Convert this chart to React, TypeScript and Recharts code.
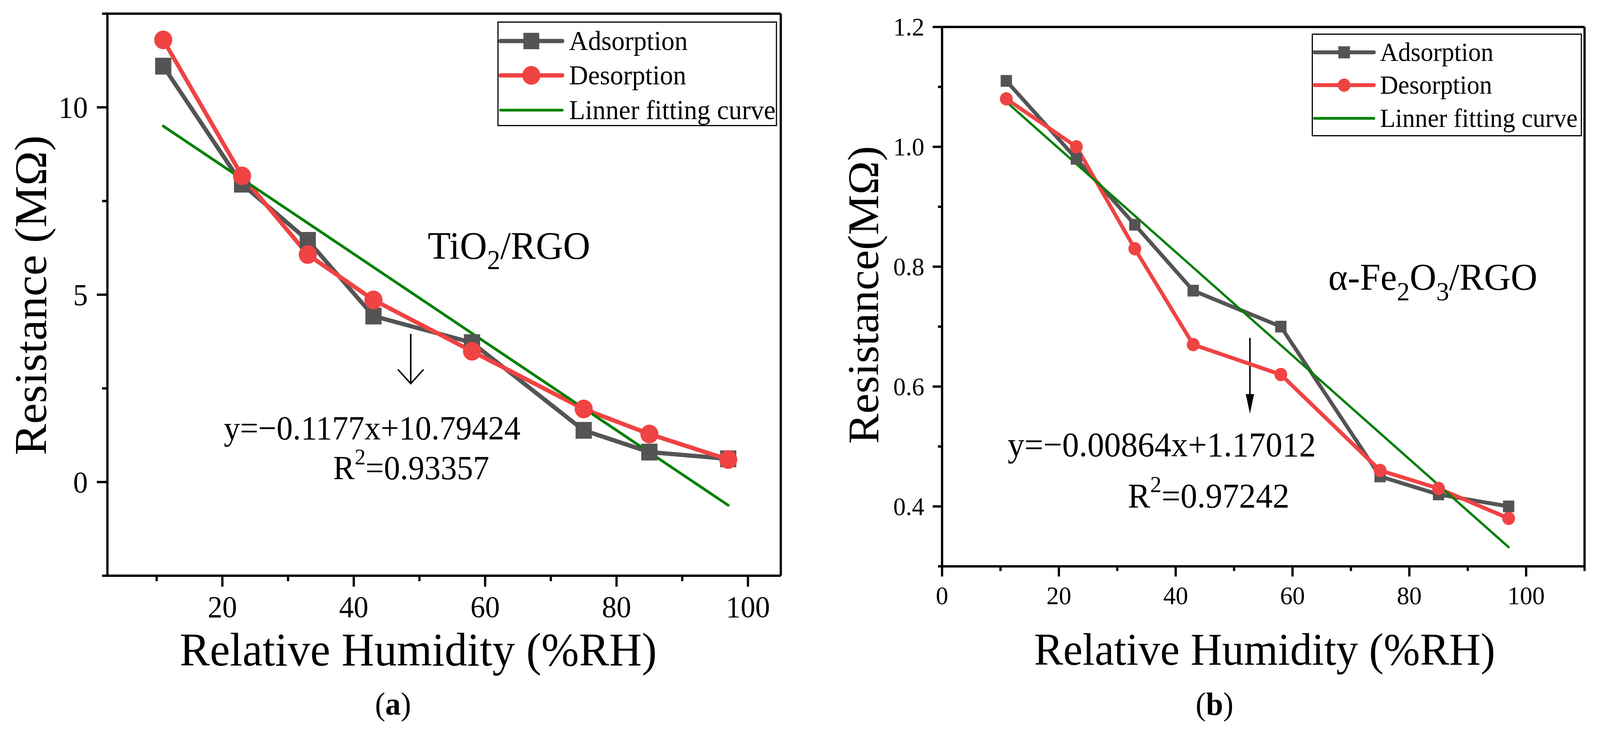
import React from 'react';
import { LineChart, Line, XAxis, YAxis, ReferenceLine, Legend, Customized } from 'recharts';

// ---------- data ----------
const humidity = [11, 23, 33, 43, 58, 75, 85, 97];

const tiAdsorption = [11.1, 7.95, 6.45, 4.43, 3.72, 1.38, 0.8, 0.62];
const tiDesorption = [11.8, 8.17, 6.07, 4.86, 3.49, 1.95, 1.28, 0.6];
const fitX = [11, 97];
const tiFitY = [9.5, -0.62];

const feAdsorption = [1.11, 0.98, 0.87, 0.76, 0.7, 0.45, 0.42, 0.4];
const feDesorption = [1.08, 1.0, 0.83, 0.67, 0.62, 0.46, 0.43, 0.38];
const feFitY = [1.075, 0.332];

const tiXTicks = [10, 20, 30, 40, 50, 60, 70, 80, 90, 100];
const tiXMajor = [20, 40, 60, 80, 100];
const tiYTicks = [-2.5, 0, 2.5, 5, 7.5, 10, 12.5];
const tiYMajor = [0, 5, 10];

const feXTicks = [0, 10, 20, 30, 40, 50, 60, 70, 80, 90, 100, 110];
const feXMajor = [0, 20, 40, 60, 80, 100];
const feYTicks = [0.3, 0.4, 0.5, 0.6, 0.7, 0.8, 0.9, 1.0, 1.1, 1.2];
const feYMajor = [0.4, 0.6, 0.8, 1.0, 1.2];

const seriesNames = ['Adsorption', 'Desorption', 'Linner fitting curve'];

// ---------- style ----------
const FONT = "'Liberation Serif', 'Times New Roman', Times, serif";
const GREY = '#545454';
const RED = '#F04343';
const GREEN = '#008000';
// the photographed frame is narrower than the requested page; fit the 4246-wide layout into it
const FIT_X = 4096 / 4246;

const toRows = (xs: number[], ys: number[]) => xs.map((h, i) => ({ h, r: ys[i] }));

const tiAdsData = toRows(humidity, tiAdsorption);
const tiDesData = toRows(humidity, tiDesorption);
const tiFitData = toRows(fitX, tiFitY);
const feAdsData = toRows(humidity, feAdsorption);
const feDesData = toRows(humidity, feDesorption);
const feFitData = toRows(fitX, feFitY);

const squareDot = (size: number, color: string) => (p: any) => {
  if (p.cx == null || p.cy == null) return <g key={`s${p.index}`} />;
  return <rect key={`s${p.index}`} x={p.cx - size / 2} y={p.cy - size / 2} width={size} height={size} fill={color} />;
};
const circleDot = (r: number, color: string) => (p: any) => {
  if (p.cx == null || p.cy == null) return <g key={`c${p.index}`} />;
  return <circle key={`c${p.index}`} cx={p.cx} cy={p.cy} r={r} fill={color} />;
};

const makeXTick = (major: number[], len: number, minorLen: number, fontSize: number, labelOffset: number, fmt: (v: number) => string) =>
  (props: any) => {
    const { x, y, payload } = props;
    const isMajor = major.some((m) => Math.abs(m - payload.value) < 1e-9);
    return (
      <g>
        <line x1={x} x2={x} y1={y} y2={y + (isMajor ? len : minorLen)} stroke="#000" strokeWidth={6} />
        {isMajor && (
          <text x={x} y={y + labelOffset} textAnchor="middle" fontSize={fontSize} fontFamily={FONT} fill="#000">
            {fmt(payload.value)}
          </text>
        )}
      </g>
    );
  };

const makeYTick = (major: number[], len: number, minorLen: number, fontSize: number, labelOffset: number, fmt: (v: number) => string) =>
  (props: any) => {
    const { x, y, payload } = props;
    const isMajor = major.some((m) => Math.abs(m - payload.value) < 1e-9);
    return (
      <g>
        <line x1={x} x2={x - (isMajor ? len : minorLen)} y1={y} y2={y} stroke="#000" strokeWidth={6} />
        {isMajor && (
          <text x={x - labelOffset} y={y + fontSize * 0.34} textAnchor="end" fontSize={fontSize} fontFamily={FONT} fill="#000">
            {fmt(payload.value)}
          </text>
        )}
      </g>
    );
  };

type LegendCfg = {
  w: number; h: number; fontSize: number; lineX1: number; lineX2: number; textX: number;
  rows: number[]; lineW: number; fitW: number; sq: number; cr: number;
};

const makeLegend = (c: LegendCfg) => () => (
  <svg width={c.w} height={c.h} style={{ display: 'block', overflow: 'visible' }}>
    <rect x={1.5} y={1.5} width={c.w - 3} height={c.h - 3} fill="#fff" stroke="#000" strokeWidth={3} />
    {seriesNames.map((name, i) => {
      const y = c.rows[i];
      const color = i === 0 ? GREY : i === 1 ? RED : GREEN;
      const mid = (c.lineX1 + c.lineX2) / 2;
      return (
        <g key={name}>
          <line x1={c.lineX1} x2={c.lineX2} y1={y} y2={y} stroke={color} strokeWidth={i === 2 ? c.fitW : c.lineW} strokeLinecap="round" />
          {i === 0 && <rect x={mid - c.sq / 2} y={y - c.sq / 2} width={c.sq} height={c.sq} fill={GREY} />}
          {i === 1 && <circle cx={mid} cy={y} r={c.cr} fill={RED} />}
          <text x={c.textX} y={y + c.fontSize * 0.33} fontSize={c.fontSize} fontFamily={FONT} fill="#000">{name}</text>
        </g>
      );
    })}
  </svg>
);

const LeftLegend = makeLegend({ w: 742, h: 268, fontSize: 70, lineX1: 8, lineX2: 172, textX: 190, rows: [50, 138, 227], lineW: 11, fitW: 7, sq: 42, cr: 24 });
const RightLegend = makeLegend({ w: 717, h: 263, fontSize: 67, lineX1: 7, lineX2: 165, textX: 181, rows: [48, 132, 217], lineW: 10, fitW: 7, sq: 31, cr: 17 });

// ---------- annotations ----------
const LeftAnnotations = () => (
  <g fontFamily={FONT} fill="#000">
    <text x={1135} y={662} fontSize={100}>
      TiO<tspan fontSize={70} dy={27}>2</tspan><tspan dy={-27}>/RGO</tspan>
    </text>
    <line x1={1090} x2={1090} y1={855} y2={980} stroke="#000" strokeWidth={4} />
    <polyline points="1056,946 1090,982 1124,946" fill="none" stroke="#000" strokeWidth={4} />
    <text x={594} y={1125} fontSize={86}>y=−0.1177x+10.79424</text>
    <text x={884} y={1227} fontSize={86}>
      R<tspan fontSize={58} dy={-38}>2</tspan><tspan dy={38}>=0.93357</tspan>
    </text>
    <text transform="translate(122,756) rotate(-90)" textAnchor="middle" fontSize={120}>Resistance (MΩ)</text>
    <text x={1110} y={1704} textAnchor="middle" fontSize={120}>Relative Humidity (%RH)</text>
    <text x={1043} y={1830} textAnchor="middle" fontSize={82}>(<tspan fontWeight="bold">a</tspan>)</text>
  </g>
);

const RightAnnotations = () => (
  <g fontFamily={FONT} fill="#000">
    <text x={3525 - 2123} y={742} fontSize={98}>
      α-Fe<tspan fontSize={68} dy={27}>2</tspan><tspan dy={-27}>O</tspan><tspan fontSize={68} dy={27}>3</tspan><tspan dy={-27}>/RGO</tspan>
    </text>
    <line x1={3317 - 2123} x2={3317 - 2123} y1={865} y2={1015} stroke="#000" strokeWidth={4} />
    <polygon points={`${3306 - 2123},1009 ${3328 - 2123},1009 ${3317 - 2123},1059`} fill="#000" />
    <text x={2674 - 2123} y={1168} fontSize={89}>y=−0.00864x+1.17012</text>
    <text x={2993 - 2123} y={1299} fontSize={89}>
      R<tspan fontSize={60} dy={-39}>2</tspan><tspan dy={39}>=0.97242</tspan>
    </text>
    <text transform="translate(207,755) rotate(-90)" textAnchor="middle" fontSize={116}>Resistance(MΩ)</text>
    <text x={3356 - 2123} y={1702} textAnchor="middle" fontSize={116}>Relative Humidity (%RH)</text>
    <text x={3223 - 2123} y={1830} textAnchor="middle" fontSize={82}>(<tspan fontWeight="bold">b</tspan>)</text>
  </g>
);

const axisLine = { stroke: '#000', strokeWidth: 6 };

export default function App() {
  return (
    <div style={{
      position: 'absolute', left: 0, top: 0, width: 4246, height: 1869, background: '#fff', overflow: 'hidden',
      transform: `scaleX(${FIT_X})`, transformOrigin: '0 0',
    }}>
      <div style={{ position: 'absolute', left: 0, top: 0 }}>
        <LineChart width={2123} height={1869} margin={{ top: 35, right: 51, left: 0, bottom: 195 }}>
          <XAxis
            dataKey="h" type="number" domain={[2.5, 105]} allowDataOverflow ticks={tiXTicks} interval={0}
            height={200} tickSize={0} tickMargin={0} axisLine={axisLine}
            tick={makeXTick(tiXMajor, 28, 14, 78, 106, (v) => String(v))}
          />
          <YAxis
            type="number" domain={[-2.5, 12.5]} allowDataOverflow ticks={tiYTicks} interval={0}
            width={285} tickSize={0} tickMargin={0} axisLine={axisLine}
            tick={makeYTick(tiYMajor, 28, 14, 78, 52, (v) => String(v))}
          />
          <ReferenceLine y={12.5} stroke="#000" strokeWidth={6} />
          <ReferenceLine x={105} stroke="#000" strokeWidth={6} />
          <Line data={tiAdsData} dataKey="r" name={seriesNames[0]} type="linear" stroke={GREY} strokeWidth={11}
            strokeLinejoin="round" dot={squareDot(43, GREY)} activeDot={false} isAnimationActive={false} />
          <Line data={tiDesData} dataKey="r" name={seriesNames[1]} type="linear" stroke={RED} strokeWidth={11}
            strokeLinejoin="round" dot={circleDot(24, RED)} activeDot={false} isAnimationActive={false} />
          <Line data={tiFitData} dataKey="r" name={seriesNames[2]} type="linear" stroke={GREEN} strokeWidth={7}
            strokeLinecap="round" dot={false} activeDot={false} isAnimationActive={false} />
          <Legend layout="vertical" align="center" verticalAlign="middle" content={LeftLegend}
            wrapperStyle={{ position: 'absolute', left: 1320, top: 55, width: 742, height: 268 }} />
          <Customized component={LeftAnnotations} />
        </LineChart>
      </div>
      <div style={{ position: 'absolute', left: 2123, top: 0 }}>
        <LineChart width={2123} height={1869} margin={{ top: 69, right: 41, left: 0, bottom: 219 }}>
          <XAxis
            dataKey="h" type="number" domain={[0, 110]} allowDataOverflow ticks={feXTicks} interval={0}
            height={200} tickSize={0} tickMargin={0} axisLine={axisLine}
            tick={makeXTick(feXMajor, 26, 12, 66, 97, (v) => String(v))}
          />
          <YAxis
            type="number" domain={[0.3, 1.2]} allowDataOverflow ticks={feYTicks} interval={0}
            width={377} tickSize={0} tickMargin={0} axisLine={axisLine}
            tick={makeYTick(feYMajor, 25, 11, 66, 47, (v) => v.toFixed(1))}
          />
          <ReferenceLine y={1.2} stroke="#000" strokeWidth={6} />
          <ReferenceLine x={110} stroke="#000" strokeWidth={6} />
          <Line data={feAdsData} dataKey="r" name={seriesNames[0]} type="linear" stroke={GREY} strokeWidth={10}
            strokeLinejoin="round" dot={squareDot(30, GREY)} activeDot={false} isAnimationActive={false} />
          <Line data={feDesData} dataKey="r" name={seriesNames[1]} type="linear" stroke={RED} strokeWidth={10}
            strokeLinejoin="round" dot={circleDot(17, RED)} activeDot={false} isAnimationActive={false} />
          <Line data={feFitData} dataKey="r" name={seriesNames[2]} type="linear" stroke={GREEN} strokeWidth={6}
            strokeLinecap="round" dot={false} activeDot={false} isAnimationActive={false} />
          <Legend layout="vertical" align="center" verticalAlign="middle" content={RightLegend}
            wrapperStyle={{ position: 'absolute', left: 3481 - 2123, top: 86, width: 717, height: 263 }} />
          <Customized component={RightAnnotations} />
        </LineChart>
      </div>
    </div>
  );
}
